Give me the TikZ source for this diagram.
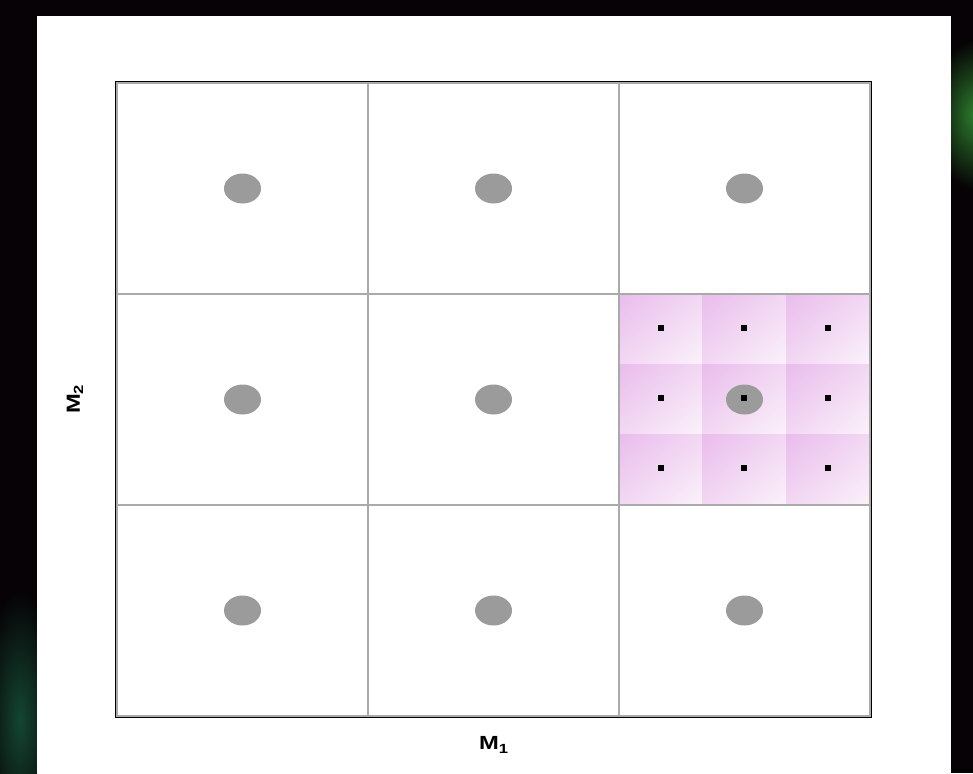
\documentclass[tikz,border=0pt]{standalone}
\usepackage{fontspec}
\setmainfont{Liberation Sans}
\usetikzlibrary{shapes.geometric, shadings, positioning, calc}
\definecolor{bgdark}{RGB}{6,2,5}
\definecolor{glowgreen}{RGB}{45,125,45}
\definecolor{dimgreen}{RGB}{20,70,50}
\definecolor{gridgray}{RGB}{170,170,170}
\definecolor{dotgray}{RGB}{155,155,155}
\definecolor{pinkhi}{RGB}{233,188,236}
\definecolor{pinkmid}{RGB}{242,215,243}
\definecolor{pinklo}{RGB}{250,242,250}
\tikzset{
  cellnode/.style={rectangle, minimum width=251pt, minimum height=211pt,
    inner sep=0pt},
  blob/.style={ellipse, fill=dotgray, minimum width=37pt, minimum height=30pt,
    inner sep=0pt},
  subpt/.style={rectangle, fill=black, minimum size=6pt, inner sep=0pt},
  subcell/.style={upper left=pinkhi, upper right=pinkmid,
    lower left=pinkmid, lower right=pinklo},
  gridline/.style={draw=gridgray, line width=2pt},
  axislabel/.style={font=\fontsize{19}{22}\selectfont\bfseries, inner sep=0pt}
}

\begin{document}
\begin{tikzpicture}[x=1pt, y=-1pt]
  % ── background and panel ──────────────────────────────────────────────────
  \fill[bgdark] (0,0) rectangle (973,773);
  \useasboundingbox (0,0) rectangle (973,773);
  \begin{scope}
    \clip (951,0) rectangle (973,773);
    \shade[inner color=glowgreen, outer color=bgdark] (975,115) ellipse (45 and 75);
  \end{scope}
  \begin{scope}
    \clip (0,480) rectangle (37,773);
    \shade[inner color=dimgreen, outer color=bgdark] (20,720) ellipse (40 and 130);
  \end{scope}
  \fill[white] (37,16) rectangle (951,773);

  % ── cells (column i, row j) ────────────────────────────────────────────────
  \foreach \i/\x in {1/242.5, 2/493.5, 3/744.5}
    \foreach \j/\y in {1/188.5, 2/399.5, 3/610.5}
      \node[cellnode] (c-\i-\j) at (\x,\y) {};

  % Refined cell: 3x3 shaded sub-cells
  \foreach \a in {0,1,2}
    \foreach \b in {0,1,2}
      \shade[subcell] ($(c-3-2.north west)+(83.67*\a,70.33*\b)$)
        rectangle +(83.67,70.33);

  % Grid lines
  \draw[gridline] (c-1-1.north east) -- (c-1-3.south east);
  \draw[gridline] (c-2-1.north east) -- (c-2-3.south east);
  \draw[gridline] (c-1-1.south west) -- (c-3-1.south east);
  \draw[gridline] (c-1-2.south west) -- (c-3-2.south east);
  \draw[gridline] (c-1-1.north west) rectangle (c-3-3.south east);
  \draw[black, line width=1.5pt] ($(c-1-1.north west)+(-1.5,-1.5)$)
    rectangle ($(c-3-3.south east)+(1.5,1.5)$);

  % Coarse design points
  \foreach \i in {1,2,3}
    \foreach \j in {1,2,3}
      \node[blob] (p-\i-\j) at (c-\i-\j) {};

  % Fine design points
  \foreach \a in {0,1,2}
    \foreach \b in {0,1,2}
      \node[subpt] (q-\a-\b) at ($(c-3-2.north west)+(41.8+83.67*\a,34+70*\b)$) {};

  % ── axis labels ────────────────────────────────────────────────────────────
  \node[axislabel, xscale=1.25] (m1) at (494,745) {M\textsubscript{1}};
  \node[axislabel, rotate=90, xscale=1.25] (m2) at (75,399) {M\textsubscript{2}};
\end{tikzpicture}
\end{document}
